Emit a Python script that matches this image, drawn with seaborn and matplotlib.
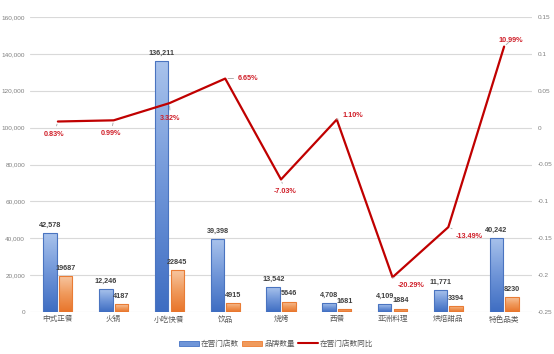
import numpy as np
import pandas as pd
import matplotlib
matplotlib.use('Agg')
import matplotlib.pyplot as plt
import seaborn as sns
from matplotlib.colors import LinearSegmentedColormap
from matplotlib.patches import Patch
from matplotlib.lines import Line2D
from matplotlib.ticker import FuncFormatter

categories = ['中式正餐', '火锅', '小吃快餐', '饮品', '烧烤', '西餐', '亚洲料理', '烘焙甜品', '特色品类']
stores = [42578, 12246, 136211, 39398, 13542, 4708, 4109, 11771, 40242]
brands = [19687, 4187, 22845, 4915, 5646, 1681, 1884, 3394, 8230]
growth = [0.0083, 0.0099, 0.0332, 0.0665, -0.0703, 0.0110, -0.2029, -0.1349, 0.1099]
series_names = ['在营门店数', '品牌数量', '在营门店数同比']
left_ticks = [0, 20000, 40000, 60000, 80000, 100000, 120000, 140000, 160000]
right_ticks = [-0.25, -0.2, -0.15, -0.1, -0.05, 0, 0.05, 0.1, 0.15]

sns.set_style('white')
plt.rcParams['font.family'] = ['Liberation Sans', 'Noto Sans CJK SC', 'DejaVu Sans']

BLUE = '#4472C4'
ORANGE = '#ED7D31'
RED = '#C00000'
GREY = '#595959'

df = pd.DataFrame({
    '品类': categories * 2,
    'value': stores + brands,
    'series': [series_names[0]] * len(categories) + [series_names[1]] * len(categories),
})

fig = plt.figure(figsize=(5.54, 3.54), dpi=100)
ax = fig.add_axes([30 / 554, 1 - 312 / 354, 502 / 554, 295 / 354])
sns.barplot(data=df, x='品类', y='value', hue='series', palette=[BLUE, ORANGE],
            width=0.56, saturation=1, ax=ax, legend=False)
ax.set_ylim(0, 160000)
ax.set_xlim(-0.5, len(categories) - 0.5)
ax.set_yticks(left_ticks)
ax.yaxis.set_major_formatter(FuncFormatter(lambda v, p: f'{int(v):,}'))
ax.yaxis.grid(True, color='#D9D9D9', lw=0.8)
ax.set_axisbelow(True)
ax.set_xlabel('')
ax.set_ylabel('')
ax.tick_params(axis='y', length=0, labelsize=4.6, colors='#7F7F7F', pad=3.5)
ax.tick_params(axis='x', length=0, labelsize=5.5, colors=GREY, pad=3)
for s in ax.spines.values():
    s.set_visible(False)

cmaps = [LinearSegmentedColormap.from_list('b', ['#3E6DC2', '#6F95D8', '#A9C3EC']),
         LinearSegmentedColormap.from_list('o', ['#E8742A', '#F09A5C', '#F7C8A4'])]
edges = ['#4A74C0', '#E97C35']
grad = np.linspace(0, 1, 256).reshape(-1, 1)
for container, vals, cmap, ec, comma in zip(ax.containers[:2], [stores, brands], cmaps, edges, [True, False]):
    for bar in container:
        c = bar.get_x() + bar.get_width() / 2
        w = 0.24
        bar.set_x(c - w / 2)
        bar.set_width(w)
        bar.set_facecolor('none')
        bar.set_edgecolor(ec)
        bar.set_linewidth(0.8)
        h = bar.get_height()
        im = ax.imshow(grad, extent=[c - w / 2, c + w / 2, 0, h], origin='lower',
                       aspect='auto', cmap=cmap, zorder=bar.get_zorder() - 0.1)
        im.set_clip_path(bar)
    labels = [f'{v:,}' if comma else f'{v}' for v in vals]
    ax.bar_label(container, labels=labels, padding=3, fontsize=5.2, fontweight='bold', color='#404040')
ax.set_xlim(-0.5, len(categories) - 0.5)
ax.set_ylim(0, 160000)

ax2 = ax.twinx()
sns.lineplot(x=np.arange(len(categories)), y=growth, ax=ax2, color=RED, linewidth=1.6, legend=False)
ax2.set_ylim(-0.25, 0.15)
ax2.set_yticks(right_ticks)
ax2.yaxis.set_major_formatter(FuncFormatter(lambda v, p: f'{v:g}'))
ax2.tick_params(axis='y', length=0, labelsize=4.6, colors='#7F7F7F', pad=4)
ax2.set_ylabel('')
for s in ax2.spines.values():
    s.set_visible(False)

offsets = [(-4, 12.5, 'center'), (-3, 13.5, 'center'), (1, 15, 'center'), (13, 0, 'left'),
           (4, 12, 'center'), (6, -4.5, 'left'), (5, 8, 'left'), (7, 9, 'left'), (7, -6.5, 'center')]
for i, (g, (dx, dy, ha)) in enumerate(zip(growth, offsets)):
    ax2.annotate(f'{g * 100:.2f}%', xy=(i, g), xytext=(dx * 0.72, -dy * 0.72),
                 textcoords='offset points', ha=ha, va='center', fontsize=5.2,
                 fontweight='bold', color='#D0202A',
                 arrowprops=dict(arrowstyle='-', color='#A6A6A6', lw=0.6, shrinkA=1, shrinkB=2))

handles = [Patch(facecolor='#6F95D8', edgecolor=BLUE, lw=0.6),
           Patch(facecolor='#F09A5C', edgecolor=ORANGE, lw=0.6),
           Line2D([0], [0], color=RED, lw=1.5)]
fig.legend(handles, series_names, loc='center', bbox_to_anchor=(276 / 554, 1 - 344 / 354),
           ncol=3, frameon=False, fontsize=5.5, handlelength=2.6, handleheight=0.6,
           columnspacing=0.4, handletextpad=0.3, labelcolor=GREY)

fig.savefig('out.png', dpi=100)
